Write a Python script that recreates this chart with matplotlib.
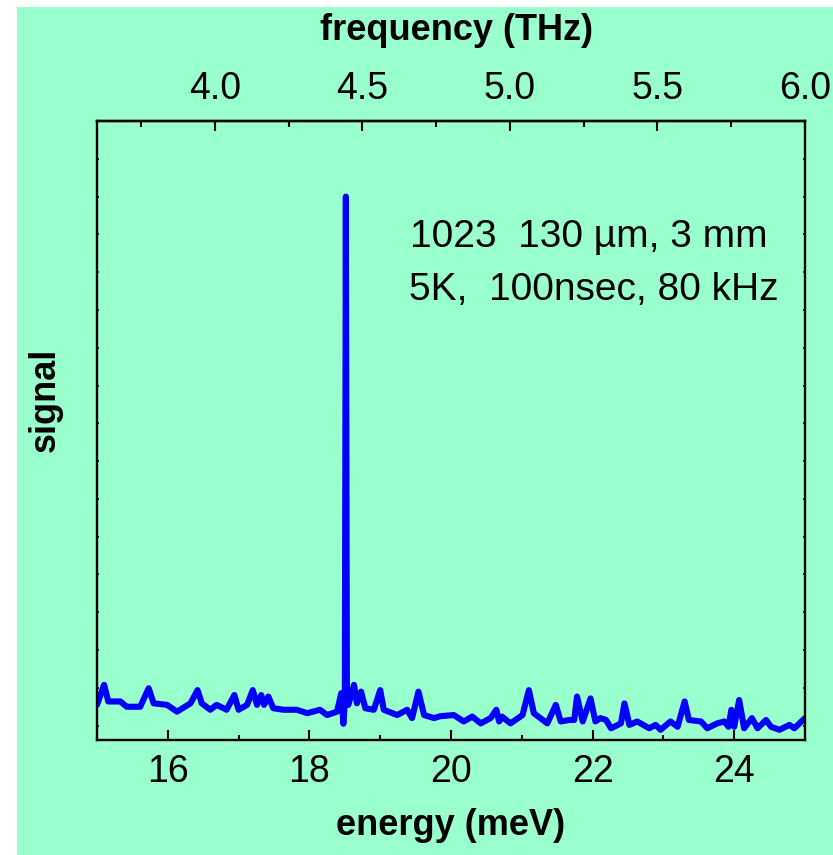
import matplotlib
matplotlib.use("Agg")
import matplotlib.pyplot as plt
from matplotlib.patches import Rectangle
from matplotlib.ticker import MultipleLocator, FixedLocator, NullFormatter

plt.rcParams['font.family'] = ['Liberation Sans', 'DejaVu Sans']

# energy (meV) and signal (arb.)
energy = [15.00, 15.10, 15.16, 15.33, 15.42, 15.61, 15.73, 15.80, 15.99, 16.13,
          16.32, 16.42, 16.48, 16.60, 16.69, 16.83, 16.94, 17.00, 17.12, 17.20,
          17.26, 17.32, 17.36, 17.42, 17.49, 17.64, 17.82, 17.97, 18.15, 18.25,
          18.39, 18.45, 18.48, 18.50, 18.515, 18.53, 18.55, 18.63, 18.67, 18.73,
          18.79, 18.91, 19.00, 19.05, 19.24, 19.38, 19.45, 19.54, 19.62, 19.76,
          19.85, 20.04, 20.18, 20.30, 20.42, 20.56, 20.64, 20.68, 20.72, 20.84,
          21.01, 21.10, 21.17, 21.36, 21.48, 21.55, 21.67, 21.74, 21.78, 21.86,
          21.97, 22.04, 22.11, 22.19, 22.26, 22.40, 22.45, 22.52, 22.63, 22.80,
          22.89, 22.96, 23.10, 23.20, 23.30, 23.36, 23.53, 23.62, 23.76, 23.86,
          23.92, 23.96, 24.00, 24.07, 24.14, 24.25, 24.33, 24.45, 24.52, 24.64,
          24.78, 24.85, 25.00]
signal = [0.55, 1.08, 0.64, 0.64, 0.50, 0.50, 0.99, 0.59, 0.55, 0.37,
          0.59, 0.94, 0.59, 0.42, 0.55, 0.42, 0.81, 0.42, 0.55, 0.94,
          0.55, 0.81, 0.55, 0.77, 0.46, 0.42, 0.42, 0.33, 0.42, 0.28,
          0.37, 0.86, 0.05, 0.60, 14.00, 0.60, 0.55, 1.08, 0.59, 0.90,
          0.46, 0.42, 0.94, 0.42, 0.28, 0.42, 0.20, 0.90, 0.28, 0.20,
          0.25, 0.28, 0.11, 0.24, 0.06, 0.20, 0.42, 0.11, 0.24, 0.06,
          0.28, 0.94, 0.33, 0.06, 0.55, 0.11, 0.15, 0.15, 0.77, 0.11,
          0.72, 0.11, 0.20, 0.15, -0.07, 0.06, 0.59, 0.02, 0.11, -0.07,
          0.02, -0.11, 0.11, -0.03, 0.64, 0.15, 0.11, -0.07, 0.06, 0.11,
          -0.03, 0.42, -0.03, 0.68, -0.07, 0.20, -0.07, 0.15, -0.03, -0.11,
          0.02, -0.07, 0.20]

annot_lines = ["1023  130 \u00b5m, 3 mm", "5K,  100nsec, 80 kHz"]
top_ticks = [4.0, 4.5, 5.0, 5.5, 6.0]
THZ_PER_MEV = 0.24

BG = '#99ffcc'
fig = plt.figure(figsize=(8.33, 8.55), dpi=100, facecolor='white')
fig.patches.append(Rectangle((17/833, 0), 1 - 17/833, 1 - 7/855,
                             transform=fig.transFigure, facecolor=BG,
                             edgecolor='none', zorder=-10))

ax = fig.add_axes([97/833, 1 - 740/855, 708/833, 619/855])
ax.set_facecolor(BG)
ax.plot(energy, signal, color='#0000ff', lw=4.4, solid_joinstyle='round',
        solid_capstyle='round')
ax.set_xlim(15, 25)
ax.set_ylim(-0.38, 16)

for s in ax.spines.values():
    s.set_linewidth(1.7)

ax.xaxis.set_major_locator(MultipleLocator(2))
ax.xaxis.set_minor_locator(MultipleLocator(1))
ax.yaxis.set_major_locator(MultipleLocator(1))
ax.yaxis.set_major_formatter(NullFormatter())
ax.tick_params(axis='x', which='major', direction='in', length=7, width=1.5,
               labelsize=27, pad=10, top=False)
ax.tick_params(axis='x', which='minor', direction='in', length=3.8, width=1.5,
               top=False)
ax.tick_params(axis='y', which='major', direction='in', length=1.5, width=1.2,
               left=True, right=True)

sec = ax.secondary_xaxis('top', functions=(lambda e: e * THZ_PER_MEV,
                                           lambda f: f / THZ_PER_MEV))
sec.xaxis.set_major_locator(FixedLocator(top_ticks))
sec.xaxis.set_minor_locator(MultipleLocator(0.25))
sec.set_xticklabels([f"{t:.1f}" for t in top_ticks])
sec.tick_params(axis='x', which='major', direction='in', length=7, width=1.5,
                labelsize=27, pad=10)
sec.tick_params(axis='x', which='minor', direction='in', length=4.5, width=1.5)
sec.spines['top'].set_linewidth(1.7)

ax.text(0.442, 0.796, annot_lines[0], transform=ax.transAxes, fontsize=28,
        va='baseline', ha='left')
ax.text(0.441, 0.711, annot_lines[1], transform=ax.transAxes, fontsize=28,
        va='baseline', ha='left')

fig.text(456/833, 1 - 30/855, "frequency (THz)", fontsize=26,
         fontweight='bold', ha='center', va='center')
fig.text(451/833, 1 - 825/855, "energy (meV)", fontsize=26,
         fontweight='bold', ha='center', va='center')
fig.text(45/833, 1 - 400/855, "signal", fontsize=26, fontweight='bold',
         rotation=90, ha='center', va='center')

fig.savefig("out.png", dpi=100, facecolor=fig.get_facecolor())
